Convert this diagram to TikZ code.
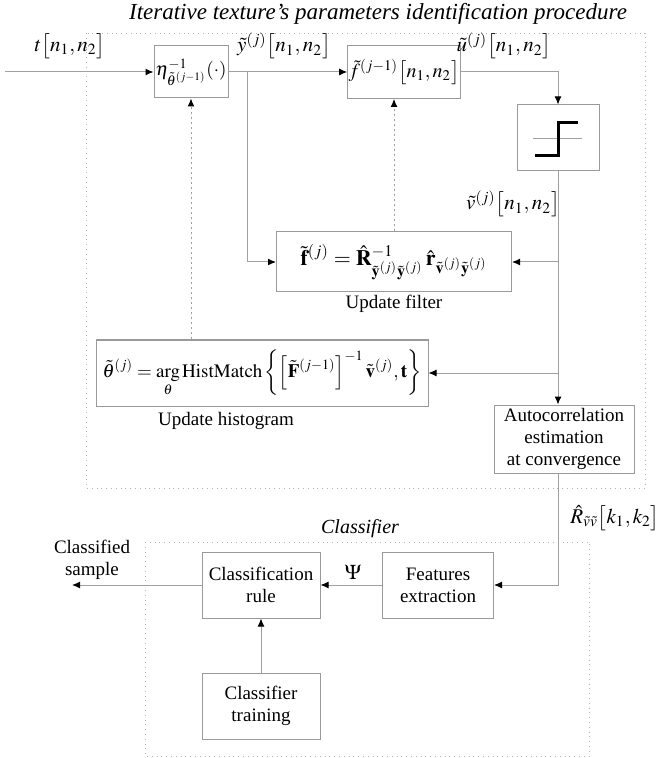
\documentclass[tikz,border=0pt]{standalone}
\usepackage{amsmath}
\usepackage{amssymb}
\usepackage{mathptmx}
\usepackage{fontspec}
\setmainfont{Liberation Serif}
\usetikzlibrary{arrows.meta, positioning}

\definecolor{boxgray}{HTML}{9A9A9A}
\definecolor{linegray}{HTML}{A0A0A0}
\definecolor{grpgray}{HTML}{B4B4B4}

\tikzset{
  blk/.style={draw=boxgray, line width=0.5pt, fill=white, inner sep=1pt, align=center},
  sig/.style={draw=linegray, line width=0.5pt, -{Latex[length=4pt,width=3.5pt,color=black]}},
  fdbk/.style={draw=linegray, line width=0.5pt, dash pattern=on 1pt off 1.5pt, -{Latex[length=4pt,width=3.5pt,color=black]}},
  grp/.style={draw=grpgray, line width=0.4pt, dotted},
  lbl/.style={inner sep=1pt, font=\fontsize{10.5}{12}\selectfont}
}

\begin{document}
\begin{tikzpicture}[x=0.5pt, y=-0.5pt, font=\fontsize{9.5}{11}\selectfont] % pixel grid, y downwards
            \useasboundingbox (0,0) rectangle (663,758);

            % Identification procedure
            \draw[grp] (86,33) rectangle (645,488);
            \node[font=\fontsize{11.5}{13}\selectfont\itshape] (proctitle) at (378,14) {Iterative texture's parameters identification procedure};

            \node[blk, minimum width=37pt, minimum height=26pt, inner sep=0.5pt] (eta) at (191,72) {$\eta^{-1}_{\tilde{\theta}^{(j-1)}}(\cdot)$};
            \node[blk, minimum width=53pt, minimum height=26.5pt, inner sep=0.5pt, font=\fontsize{10}{12}\selectfont] (fbox) at (404,72) {$\tilde{f}^{(j-1)}\big[n_1,n_2\big]$};
            \node[blk, minimum width=41pt, minimum height=33pt] (step) at (558,138) {};
            \node[blk, minimum width=117.5pt, minimum height=30pt, font=\fontsize{11}{13}\selectfont] (filt) at (394,262) {$\displaystyle\tilde{\mathbf{f}}^{(j)}=\hat{\mathbf{R}}^{-1}_{\tilde{\mathbf{y}}^{(j)}\tilde{\mathbf{y}}^{(j)}}\,\hat{\mathbf{r}}_{\tilde{\mathbf{v}}^{(j)}\tilde{\mathbf{y}}^{(j)}}$};
            \node[blk, minimum width=166pt, minimum height=33pt] (hist) at (262,373) {$\displaystyle\tilde{\theta}^{(j)}=\mathop{\mathrm{arg}}\limits_{\theta}\mathrm{HistMatch}\left\{\left[\tilde{\mathbf{F}}^{(j-1)}\right]^{-1}\tilde{\mathbf{v}}^{(j)},\mathbf{t}\right\}$};
            \node[blk, minimum width=70pt, minimum height=34pt] (auto) at (564,439) {Autocorrelation\\estimation\\at convergence};

            \node[below=0pt of filt, inner sep=1pt] (filtcap) {Update filter};
            \node[inner sep=1pt] (histcap) at (226,421) {Update histogram};

            % step non-linearity
            \draw[linegray, line width=0.5pt] (533,139) -- (582,139);
            \draw[line width=1.5pt] (535,156) -- (558,156) -- (558,123) -- (578,123);

            % signal labels
            \node[lbl] (tlab) at (70,46) {$t\big[n_1,n_2\big]$};
            \node[lbl] (ylab) at (284,46) {$\tilde{y}^{(j)}\big[n_1,n_2\big]$};
            \node[lbl] (ulab) at (504,46) {$\tilde{u}^{(j)}\big[n_1,n_2\big]$};
            \node[lbl] (vlab) at (513,204) {$\tilde{v}^{(j)}\big[n_1,n_2\big]$};
            \node[lbl] (rlab) at (615,518) {$\hat{R}_{\tilde{v}\tilde{v}}\big[k_1,k_2\big]$};

            % connectors
            \coordinate (inp) at (5,72);
            \coordinate (br) at (247,72);
            \draw[sig] (inp) -- (eta);
            \draw[sig] (eta) -- (fbox);
            \draw[sig] (br) |- (filt);
            \draw[sig] (fbox.east) -| (step.north);
            \draw[sig] (step.south) -- (step.south |- auto.north);
            \draw[sig] (step.south |- filt.east) -- (filt.east);
            \draw[sig] (step.south |- hist.east) -- (hist.east);
            \draw[fdbk] (filt.north) -- (filt.north |- fbox.south);
            \draw[fdbk] (hist.north -| eta.south) -- (eta.south);

            % Classifier
            \draw[grp] (145,542) rectangle (589,756);
            \node[font=\fontsize{10}{12}\selectfont\itshape] (clstitle) at (360,529) {Classifier};

            \node[blk, minimum width=59pt, minimum height=33pt] (rule) at (261,585) {Classification\\rule};
            \node[blk, minimum width=55.5pt, minimum height=33pt] (feat) at (438,585) {Features\\extraction};
            \node[blk, minimum width=59pt, minimum height=33pt] (train) at (261,706) {Classifier\\training};
            \node[lbl] (psi) at (353,572) {$\Psi$};
            \node[inner sep=1pt, align=center] (outlab) at (92,560) {Classified\\sample};

            \coordinate (outp) at (72,585);
            \draw[sig] (auto.south -| step.south) |- (feat.east);
            \draw[sig] (feat) -- (rule);
            \draw[sig] (train) -- (rule);
            \draw[sig] (rule) -- (outp);
        \end{tikzpicture}
\end{document}
